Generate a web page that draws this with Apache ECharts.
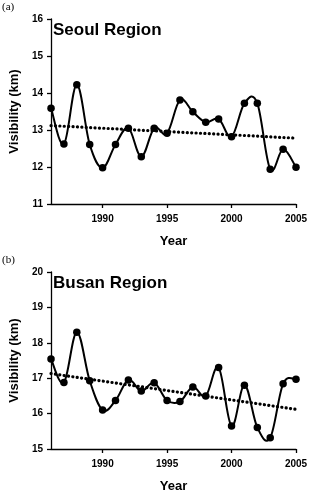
<!DOCTYPE html>
<html>
<head>
    <meta charset="utf-8">
    <title>Visibility</title>
    <script src="https://cdn.jsdelivr.net/npm/echarts@6/dist/echarts.min.js"></script>
    <style type="text/css">
        html, body { margin: 0; padding: 0; background: #fff; }
        #chart { width: 311px; height: 494px; }
    </style>
</head>
<body>
<div id="chart"></div>
<script type="text/javascript">
    // yearly mean visibility (km)
    let years = [1986, 1987, 1988, 1989, 1990, 1991, 1992, 1993, 1994, 1995,
                 1996, 1997, 1998, 1999, 2000, 2001, 2002, 2003, 2004, 2005];
    let seoulVis = [13.59, 12.62, 14.22, 12.61, 11.98, 12.61, 13.05, 12.28, 13.05, 12.91,
                    13.81, 13.49, 13.21, 13.30, 12.82, 13.72, 13.72, 11.94, 12.48, 11.99];
    let busanVis = [17.54, 16.88, 18.30, 16.93, 16.10, 16.37, 16.95, 16.64, 16.87, 16.37,
                    16.34, 16.75, 16.50, 17.30, 15.65, 16.80, 15.61, 15.32, 16.84, 16.97];
    // linear trend lines (start / end)
    let trendYears = [1986, 2005];
    let seoulTrend = [13.12, 12.78];
    let busanTrend = [17.13, 16.12];
    let yearTicks = [1990, 1995, 2000, 2005];

    let font = '"Liberation Sans", Arial, sans-serif';
    let serif = '"Liberation Serif", "Times New Roman", serif';

    function pairs(xs, ys) {
        return xs.map(function (x, i) { return [x, ys[i]]; });
    }

    function xAx(gi) {
        return {
            gridIndex: gi, type: 'value', min: 1986, max: 2005,
            name: 'Year', nameLocation: 'middle', nameGap: 31,
            nameTextStyle: { fontFamily: font, fontWeight: 'bold', fontSize: 13, color: '#000' },
            axisLine: { show: true, lineStyle: { color: '#000', width: 1.3 } },
            axisTick: { show: true, customValues: yearTicks, length: 4, lineStyle: { color: '#000', width: 1.3 } },
            axisLabel: {
                customValues: yearTicks, margin: 10, fontFamily: font, fontWeight: 'bold', fontSize: 10, color: '#000',
                formatter: function (v) { return String(v); }
            },
            splitLine: { show: false }
        };
    }

    function yAx(gi, lo, hi) {
        return {
            gridIndex: gi, type: 'value', min: lo, max: hi, interval: 1,
            name: 'Visibility (km)', nameLocation: 'middle', nameGap: 26,
            nameTextStyle: { fontFamily: font, fontWeight: 'bold', fontSize: 13, color: '#000' },
            axisLine: { show: true, lineStyle: { color: '#000', width: 1.3 } },
            axisTick: { show: true, inside: false, length: 4, lineStyle: { color: '#000', width: 1.3 } },
            axisLabel: { margin: 8, fontFamily: font, fontWeight: 'bold', fontSize: 10, color: '#000' },
            splitLine: { show: false }
        };
    }

    // spreadsheet-style smoothed curve through the points (cardinal bezier),
    // positions come from the axes via api.coord
    function curveSeries(gi, vals) {
        return {
            type: 'custom', xAxisIndex: gi, yAxisIndex: gi,
            data: [[years[0], vals[0]]],
            silent: true, z: 3,
            renderItem: function (params, api) {
                let p = years.map(function (x, i) { return api.coord([x, vals[i]]); });
                let k = 0.18;
                let d = 'M' + p[0][0] + ' ' + p[0][1];
                for (let i = 0; i < p.length - 1; i++) {
                    let a = p[i - 1] || p[i], b = p[i], c = p[i + 1], e = p[i + 2] || p[i + 1];
                    let c1x = b[0] + (c[0] - a[0]) * k, c1y = b[1] + (c[1] - a[1]) * k;
                    let c2x = c[0] - (e[0] - b[0]) * k, c2y = c[1] - (e[1] - b[1]) * k;
                    d += ' C' + c1x + ' ' + c1y + ' ' + c2x + ' ' + c2y + ' ' + c[0] + ' ' + c[1];
                }
                return {
                    type: 'path',
                    shape: { pathData: d },
                    style: { fill: 'none', stroke: '#000', lineWidth: 2 }
                };
            }
        };
    }

    function pointSeries(gi, vals) {
        return {
            type: 'scatter', xAxisIndex: gi, yAxisIndex: gi,
            data: pairs(years, vals),
            symbol: 'circle', symbolSize: 7.5,
            itemStyle: { color: '#000', opacity: 1 },
            z: 4
        };
    }

    function trendSeries(gi, vals) {
        return {
            type: 'line', xAxisIndex: gi, yAxisIndex: gi,
            data: pairs(trendYears, vals), symbol: 'none',
            lineStyle: { color: '#000', width: 3.2, type: [0.1, 4.3], cap: 'round' },
            z: 2
        };
    }

    let chart = echarts.init(document.getElementById('chart'), null, { renderer: 'canvas' });
    chart.setOption({
        animation: false,
        backgroundColor: '#fff',
        title: [
            { text: '(a)', left: 2, top: 2, padding: 0, textStyle: { fontFamily: serif, fontWeight: 'normal', fontSize: 11, color: '#000' } },
            { text: 'Seoul Region', left: 53, top: 22, padding: 0, textStyle: { fontFamily: font, fontWeight: 'bold', fontSize: 17, color: '#000' } },
            { text: '(b)', left: 2, top: 255, padding: 0, textStyle: { fontFamily: serif, fontWeight: 'normal', fontSize: 11, color: '#000' } },
            { text: 'Busan Region', left: 53, top: 275, padding: 0, textStyle: { fontFamily: font, fontWeight: 'bold', fontSize: 17, color: '#000' } }
        ],
        grid: [
            { left: 45, right: 15, top: 19, height: 185 },
            { left: 45, right: 15, top: 272, height: 186 }
        ],
        xAxis: [xAx(0), xAx(1)],
        yAxis: [yAx(0, 11, 16), yAx(1, 15, 20)],
        series: [
            trendSeries(0, seoulTrend),
            curveSeries(0, seoulVis),
            pointSeries(0, seoulVis),
            trendSeries(1, busanTrend),
            curveSeries(1, busanVis),
            pointSeries(1, busanVis)
        ]
    });
</script>
</body>
</html>
